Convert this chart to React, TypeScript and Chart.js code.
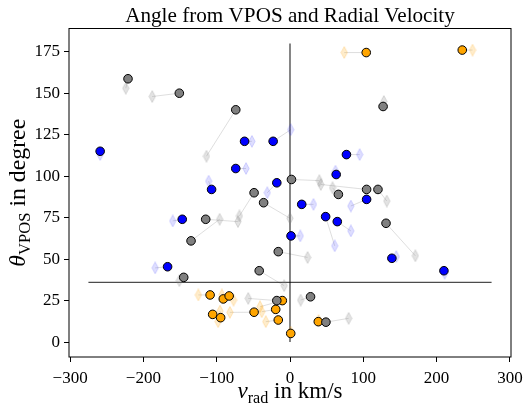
import { useEffect, useRef } from 'react';
import { Chart, registerables } from 'chart.js';
Chart.register(...registerables);

// ---- data (v_rad in km/s, theta in degree); "Alt" = faint diamond counterpart ----
const grayV = [-221, -151, -74, 127, -115, -135, -145, 2, -49, -36, 66, 104.5, 120, 131, -16, -42, -18, 28, 49];
const grayTheta = [158.7, 150, 140, 142, 74, 61, 39, 98, 90, 84, 89, 92, 92, 71.6, 54.5, 43, 25, 27.3, 12];
const grayVAlt = [-224, -188, -114, 128, -71, -96, -151, 40, -69, 0, 58, 42, 132, 171, 24, -8, -57, 14.5, 80];
const grayThetaAlt = [153, 148, 112, 145, 72.6, 74, 37, 97.3, 76, 74.6, 93, 95, 85, 52, 51, 34, 26.3, 25.3, 14.3];

const blueV = [-259, -62, -23, 77, -74, -107, -18, 63, 104.5, 16, 48.6, 64.5, 1.4, -147, -167, 139, 210];
const blueTheta = [115, 121, 121, 113, 104.6, 92, 96, 101, 86, 83, 75.6, 72.6, 64, 74, 45.4, 50.5, 43];
const blueVAlt = [-259, -52, 1, 95, -60, -111, -31, 62, 83, 32, 61, 83, 14, -160, -184, 145, 211];
const blueThetaAlt = [113, 121, 128, 113, 104.6, 97, 90, 103, 82, 83, 58, 67, 64, 73, 44.7, 51.5, 41.5];

const orangeV = [104, 235, -109, -91, -83, -105.5, -94.6, -49, -19.5, -16, -10.5, 1, 38.6];
const orangeTheta = [174.5, 176, 28.4, 26, 27.8, 16.7, 14.7, 18, 19.7, 13.3, 25, 5.2, 12.3];
const orangeVAlt = [74, 249, -125, -93, -77, -98, -95.5, -82, -38.6, -33, -41, 1, 39];
const orangeThetaAlt = [174.5, 176, 28.4, 28.4, 25.3, 12.3, 18.7, 17.9, 18.3, 12.3, 21.3, 6, 13];

const vLineX = [0, 0];
const vLineY = [0, 180];
const hLineX = [-275, 275];
const hLineY = [36, 36];

const xTicks = [-300, -200, -100, 0, 100, 200, 300];
const yTicks = [0, 25, 50, 75, 100, 125, 150, 175];

const TITLE = 'Angle from VPOS and Radial Velocity';
const SERIF = '"Liberation Serif", "DejaVu Serif", serif';

const pts = (xs: number[], ys: number[]) => xs.map((x, i) => ({ x, y: ys[i] }));
const pairs = (xs: number[], ys: number[], xa: number[], ya: number[]) => {
  const out: any[] = [];
  xs.forEach((x, i) => {
    out.push({ x, y: ys[i] }, { x: xa[i], y: ya[i] }, { x: xa[i], y: null });
  });
  return out;
};

function makeDiamond(fill: string, stroke: string) {
  const c = document.createElement('canvas');
  c.width = 8;
  c.height = 13;
  const ctx = c.getContext('2d')!;
  ctx.beginPath();
  ctx.moveTo(4, 0.6);
  ctx.lineTo(7.2, 6.5);
  ctx.lineTo(4, 12.4);
  ctx.lineTo(0.8, 6.5);
  ctx.closePath();
  ctx.fillStyle = fill;
  ctx.fill();
  ctx.strokeStyle = stroke;
  ctx.lineWidth = 0.8;
  ctx.stroke();
  return c;
}

type Seg = { t: string; it?: boolean; sub?: boolean };
function richWidth(ctx: CanvasRenderingContext2D, segs: Seg[], size: number) {
  let w = 0;
  for (const s of segs) {
    const fs = s.sub ? size * 0.7 : size;
    ctx.font = `${s.it ? 'italic ' : ''}${fs}px ${SERIF}`;
    w += ctx.measureText(s.t).width;
  }
  return w;
}
function drawRich(ctx: CanvasRenderingContext2D, segs: Seg[], size: number, cx: number, y: number) {
  const w = richWidth(ctx, segs, size);
  let x = cx - w / 2;
  ctx.textAlign = 'left';
  ctx.textBaseline = 'alphabetic';
  for (const s of segs) {
    const fs = s.sub ? size * 0.7 : size;
    ctx.font = `${s.it ? 'italic ' : ''}${fs}px ${SERIF}`;
    ctx.fillText(s.t, x, s.sub ? y + size * 0.22 : y);
    x += ctx.measureText(s.t).width;
  }
}

const textPlugin = {
  id: 'textPlugin',
  afterDraw(chart: any) {
    const { ctx, chartArea: a } = chart;
    ctx.save();
    // spines
    ctx.strokeStyle = '#000';
    ctx.lineWidth = 1;
    ctx.strokeRect(a.left, a.top, a.right - a.left, a.bottom - a.top);
    ctx.fillStyle = '#000';
    const cx = (a.left + a.right) / 2;
    // title
    ctx.font = `20px ${SERIF}`;
    const tw = ctx.measureText(TITLE).width;
    const ts = (20 * 330) / tw;
    ctx.font = `${ts}px ${SERIF}`;
    ctx.textAlign = 'center';
    ctx.textBaseline = 'alphabetic';
    ctx.fillText(TITLE, cx, 22);
    // x label
    const xSegs: Seg[] = [{ t: 'v', it: true }, { t: 'rad', sub: true }, { t: ' in km/s' }];
    const xs = (20 * 105) / richWidth(ctx, xSegs, 20);
    drawRich(ctx, xSegs, xs, cx, 398);
    // y label
    const ySegs: Seg[] = [{ t: 'θ', it: true }, { t: 'VPOS', sub: true }, { t: ' in degree' }];
    const ys = (20 * 148) / richWidth(ctx, ySegs, 20);
    ctx.translate(25, (a.top + a.bottom) / 2);
    ctx.rotate(-Math.PI / 2);
    drawRich(ctx, ySegs, ys, 0, 0);
    ctx.restore();
  },
};

export default function App() {
  const ref = useRef<HTMLCanvasElement>(null);
  useEffect(() => {
    const dBlue = makeDiamond('rgba(0,0,255,0.13)', 'rgba(0,0,255,0.2)');
    const dGray = makeDiamond('rgba(128,128,128,0.22)', 'rgba(128,128,128,0.32)');
    const dOrange = makeDiamond('rgba(255,165,0,0.2)', 'rgba(255,165,0,0.3)');
    const circle = (data: any[], color: string) => ({
      data,
      order: 0,
      pointStyle: 'circle',
      pointRadius: 4.3,
      pointBackgroundColor: color,
      pointBorderColor: '#000',
      pointBorderWidth: 1,
      showLine: false,
    });
    const diamond = (data: any[], img: HTMLCanvasElement) => ({
      data,
      order: 1,
      pointStyle: img,
      pointRadius: 5,
      showLine: false,
    });
    const conn = (data: any[]) => ({
      data,
      order: 3,
      showLine: true,
      pointRadius: 0,
      borderColor: 'rgba(150,150,150,0.4)',
      borderWidth: 0.8,
      spanGaps: false,
    });
    const chart = new Chart(ref.current!, {
      type: 'scatter',
      data: {
        datasets: [
          circle(pts(grayV, grayTheta), '#808080'),
          circle(pts(orangeV, orangeTheta), '#ffa500'),
          circle(pts(blueV, blueTheta), '#0000ff'),
          diamond(pts(grayVAlt, grayThetaAlt), dGray),
          diamond(pts(orangeVAlt, orangeThetaAlt), dOrange),
          diamond(pts(blueVAlt, blueThetaAlt), dBlue),
          {
            data: pts(vLineX, vLineY),
            order: 2,
            showLine: true,
            pointRadius: 0,
            borderColor: 'rgba(0,0,0,0.6)',
            borderWidth: 1.6,
          },
          {
            data: pts(hLineX, hLineY),
            order: 2,
            showLine: true,
            pointRadius: 0,
            borderColor: 'rgba(0,0,0,0.7)',
            borderWidth: 1.4,
          },
          conn(pairs(grayV, grayTheta, grayVAlt, grayThetaAlt)),
          conn(pairs(orangeV, orangeTheta, orangeVAlt, orangeThetaAlt)),
          conn(pairs(blueV, blueTheta, blueVAlt, blueThetaAlt)),
        ] as any,
      },
      options: {
        animation: false,
        responsive: false,
        events: [],
        layout: { padding: { left: 0, right: 12, top: 28.5, bottom: 0 } },
        plugins: { legend: { display: false }, tooltip: { enabled: false }, title: { display: false } },
        scales: {
          x: {
            type: 'linear',
            min: -301.5,
            max: 301.5,
            afterBuildTicks: (s: any) => {
              s.ticks = xTicks.map((v) => ({ value: v }));
            },
            afterFit: (s: any) => {
              s.height = 48;
              s.paddingLeft = 0;
              s.paddingRight = 0;
            },
            grid: { drawOnChartArea: false, drawTicks: true, tickLength: 5, color: '#000', tickColor: '#000' },
            border: { display: false },
            ticks: {
              color: '#000',
              padding: 6,
              maxRotation: 0,
              autoSkip: false,
              font: { family: SERIF, size: 17 },
              callback: (v: any) => (v < 0 ? '\u2212' + Math.abs(v) : String(v)),
            },
          },
          y: {
            type: 'linear',
            min: -9,
            max: 189,
            afterBuildTicks: (s: any) => {
              s.ticks = yTicks.map((v) => ({ value: v }));
            },
            afterFit: (s: any) => {
              s.width = 69;
              s.paddingTop = 0;
              s.paddingBottom = 0;
            },
            grid: { drawOnChartArea: false, drawTicks: true, tickLength: 5, color: '#000', tickColor: '#000' },
            border: { display: false },
            ticks: {
              color: '#000',
              padding: 4,
              autoSkip: false,
              font: { family: SERIF, size: 17 },
              callback: (v: any) => String(v),
            },
          },
        },
      },
      plugins: [textPlugin],
    } as any);
    return () => chart.destroy();
  }, []);
  return (
    <div style={{ position: 'absolute', left: 0, top: 0, width: 523, height: 405, background: '#fff' }}>
      <canvas ref={ref} width={523} height={405} style={{ display: 'block' }} />
    </div>
  );
}
